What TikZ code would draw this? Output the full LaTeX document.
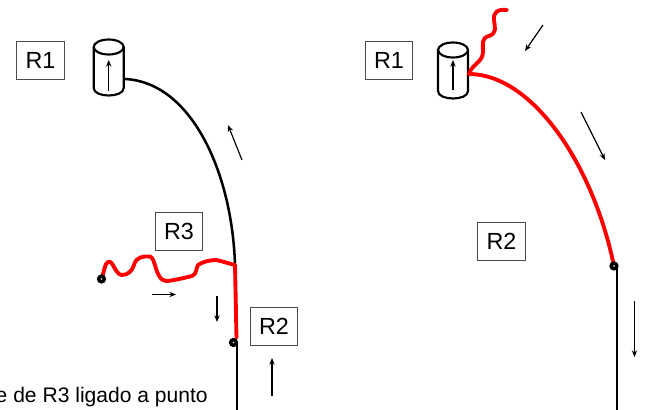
\documentclass[tikz,border=0pt]{standalone}
\usepackage{fontspec}
\setmainfont{Liberation Sans}
\usetikzlibrary{arrows.meta}
\definecolor{curvered}{RGB}{255,0,0}
\tikzset{
  labelbox/.style={draw=black!70,line width=0.6pt,fill=white,minimum width=35.5pt,minimum height=28.5pt,inner sep=0pt,font=\fontsize{17.5}{20}\selectfont},
  blackcurve/.style={draw=black,line width=1.9pt},
  redcurve/.style={draw=curvered,line width=2.9pt,line join=round,line cap=round},
  cylline/.style={draw=black,line width=1.6pt},
  dirarrow/.style={draw=black,line width=0.9pt,-{Stealth[length=5pt,width=4pt]}},
  ringdot/.style={circle,draw=black,line width=2.6pt,fill=white,minimum size=4.2pt,inner sep=0pt},
}
\newcommand{\cylshape}[2]{%
  \draw[cylline] (#1-15,#2) -- (#1-15,#2+41) .. controls (#1-15,#2+51) and (#1+15,#2+51) .. (#1+15,#2+41) -- (#1+15,#2);
  \draw[cylline] (#1,#2) ellipse[x radius=15,y radius=7.5];
}
\begin{document}
\begin{tikzpicture}[x=0.75pt,y=-0.75pt]
\useasboundingbox (0,0) rectangle (654,410);
\clip (0,0) rectangle (654,410);
% left panel
\node[labelbox] (r1a) at (40.5,60) {R1};
\cylshape{108.7}{47}
\coordinate (cylA) at (125,79);
\coordinate (jn) at (235,265);
\coordinate (botA) at (237,412);
\coordinate (dotBpos) at (233.5,342.5);
\coordinate (dotApos) at (101.5,279);
\draw[blackcurve] (cylA) .. controls (190,82) and (232,170) .. (jn);
\draw[blackcurve] (dotBpos -| botA) -- (botA);
\draw[dirarrow] (108.7,91) -- (108.7,60);
\draw[dirarrow] (242,160) -- (228,125);
\draw[redcurve] (jn) -- (236.5,338);
\draw[redcurve] (dotApos) .. controls (104,272) and (105,263) .. (108,262)
  .. controls (113,259) and (115,275) .. (122,275)
  .. controls (128,275) and (132,271) .. (134,265)
  .. controls (136,257) and (143,256) .. (150,256.5)
  .. controls (156,258) and (155,280) .. (166,281)
  .. controls (172,281) and (188,277) .. (192,276)
  .. controls (197,274) and (196,268) .. (198,265)
  .. controls (202,262) and (210,260) .. (216,260)
  .. controls (222,261) and (230,264) .. (jn);
\node[ringdot] (dotA) at (dotApos) {};
\node[ringdot] (dotB) at (dotBpos) {};
\node[labelbox] (r3) at (179,231) {R3};
\node[labelbox] (r2a) at (274,326) {R2};
\draw[dirarrow] (152,294.5) -- (176,294.5);
\draw[dirarrow] (217,296) -- (217,322);
\draw[dirarrow] (272,396) -- (272,358);
\node[anchor=base east,inner sep=0pt,font=\fontsize{15.8}{18}\selectfont] (cap) at (208,402) {e de R3 ligado a punto};
% right panel
\node[labelbox] (r1b) at (389,60) {R1};
\cylshape{453}{50}
\coordinate (cylB) at (469,74);
\coordinate (jr) at (614,266);
\coordinate (wavetop) at (507,10);
\coordinate (botB) at (617,412);
\draw[redcurve] (cylB) .. controls (530,74) and (592,160) .. (jr);
\draw[redcurve] (wavetop) .. controls (498,9) and (493,12) .. (494,20)
  .. controls (495,28) and (497,33) .. (489,36)
  .. controls (481,38) and (483,44) .. (483,52)
  .. controls (483,62) and (472,64) .. (cylB);
\draw[blackcurve] (617,268) -- (botB);
\node[ringdot] (dotC) at (jr) {};
\draw[dirarrow] (453,90) -- (453,60);
\draw[dirarrow] (543,25) -- (525,51);
\draw[dirarrow] (581,112) -- (605,160);
\draw[dirarrow] (634.5,301) -- (634.5,357);
\node[labelbox] (r2b) at (501.5,241) {R2};
\end{tikzpicture}
\end{document}
